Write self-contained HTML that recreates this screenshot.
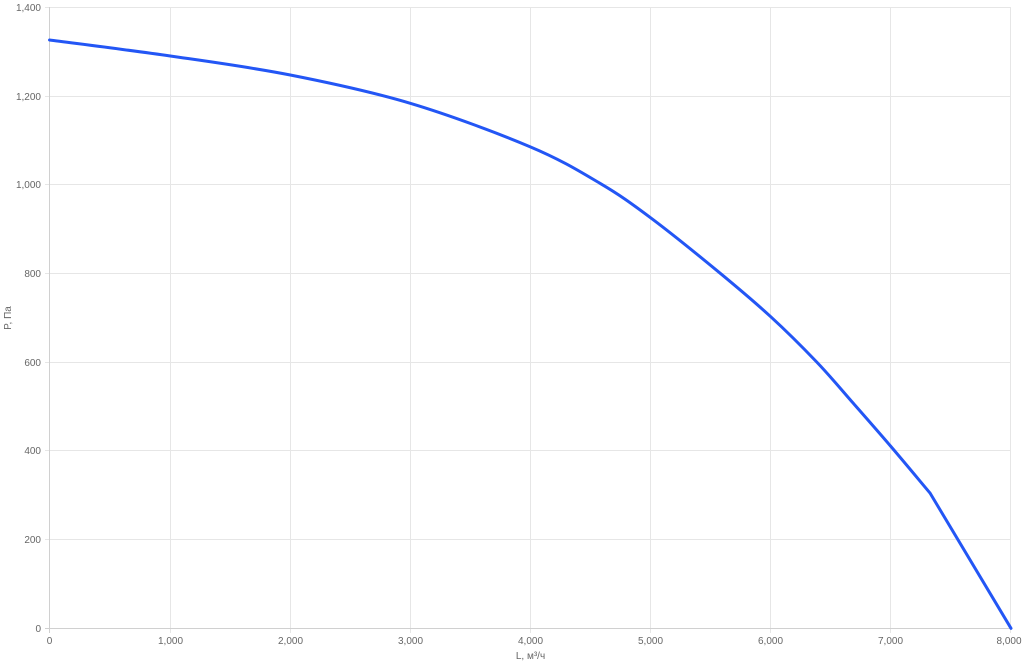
<!DOCTYPE html>
<html>
<head>
<meta charset="utf-8">
<style>
html,body{margin:0;padding:0;background:#fff;}
svg{display:block;}
text{font-family:"Liberation Sans", "Noto Sans CJK SC", sans-serif;fill:#666;font-size:10px;}
</style>
</head>
<body>
<svg width="1024" height="666" viewBox="0 0 1024 666" xmlns="http://www.w3.org/2000/svg">
  <g stroke="#e6e6e6" stroke-width="1">
    <line x1="170.5" y1="7" x2="170.5" y2="633"/>
    <line x1="290.5" y1="7" x2="290.5" y2="633"/>
    <line x1="410.5" y1="7" x2="410.5" y2="633"/>
    <line x1="530.5" y1="7" x2="530.5" y2="633"/>
    <line x1="650.5" y1="7" x2="650.5" y2="633"/>
    <line x1="770.5" y1="7" x2="770.5" y2="633"/>
    <line x1="890.5" y1="7" x2="890.5" y2="633"/>
    <line x1="1010.5" y1="7" x2="1010.5" y2="633"/>
    <line x1="45" y1="7.5" x2="1011" y2="7.5"/>
    <line x1="45" y1="96.5" x2="1011" y2="96.5"/>
    <line x1="45" y1="184.5" x2="1011" y2="184.5"/>
    <line x1="45" y1="273.5" x2="1011" y2="273.5"/>
    <line x1="45" y1="362.5" x2="1011" y2="362.5"/>
    <line x1="45" y1="450.5" x2="1011" y2="450.5"/>
    <line x1="45" y1="539.5" x2="1011" y2="539.5"/>
  </g>
  <g stroke="#d0d0d0" stroke-width="1">
    <line x1="49.5" y1="7" x2="49.5" y2="633"/>
    <line x1="45" y1="628.5" x2="1011" y2="628.5"/>
  </g>
  <g text-anchor="end">
    <text x="41" y="10.8">1,400</text>
    <text x="41" y="99.8">1,200</text>
    <text x="41" y="187.8">1,000</text>
    <text x="41" y="276.8">800</text>
    <text x="41" y="365.8">600</text>
    <text x="41" y="453.8">400</text>
    <text x="41" y="542.8">200</text>
    <text x="41" y="631.8">0</text>
  </g>
  <g text-anchor="middle">
    <text x="49.5" y="644">0</text>
    <text x="170.5" y="644">1,000</text>
    <text x="290.5" y="644">2,000</text>
    <text x="410.5" y="644">3,000</text>
    <text x="530.5" y="644">4,000</text>
    <text x="650.5" y="644">5,000</text>
    <text x="770.5" y="644">6,000</text>
    <text x="890.5" y="644">7,000</text>
    <text x="1009" y="644">8,000</text>
  </g>
  <text x="530.5" y="659" text-anchor="middle">L, м³/ч</text>
  <text x="0" y="0" text-anchor="middle" transform="translate(11,318) rotate(-90)">P, Па</text>
  <path fill="none" stroke="#2356f5" stroke-width="3" stroke-linejoin="round" stroke-linecap="round"
    d="M49.5,40
       C69.6,42.7 130.2,50.2 170.3,56
       C210.4,61.8 250.3,67.1 290.3,75
       C330.3,82.9 370.35,91.35 410.3,103.3
       C450.25,115.25 498.4,133.4 530,146.7
       C561.6,160 580,171.5 600,183.3
       C620,195.1 630.3,202.6 650,217.3
       C669.7,232 698.2,255.1 718.3,271.7
       C738.4,288.3 754.3,301.65 770.7,316.7
       C787.1,331.75 802.9,347.6 816.7,362
       C830.5,376.4 841,389.3 853.3,403.3
       C865.6,417.3 877.7,431.05 890.5,446
       C903.3,460.95 923.4,485.2 930,493
       L1011,628.3"/>
</svg>
</body>
</html>
